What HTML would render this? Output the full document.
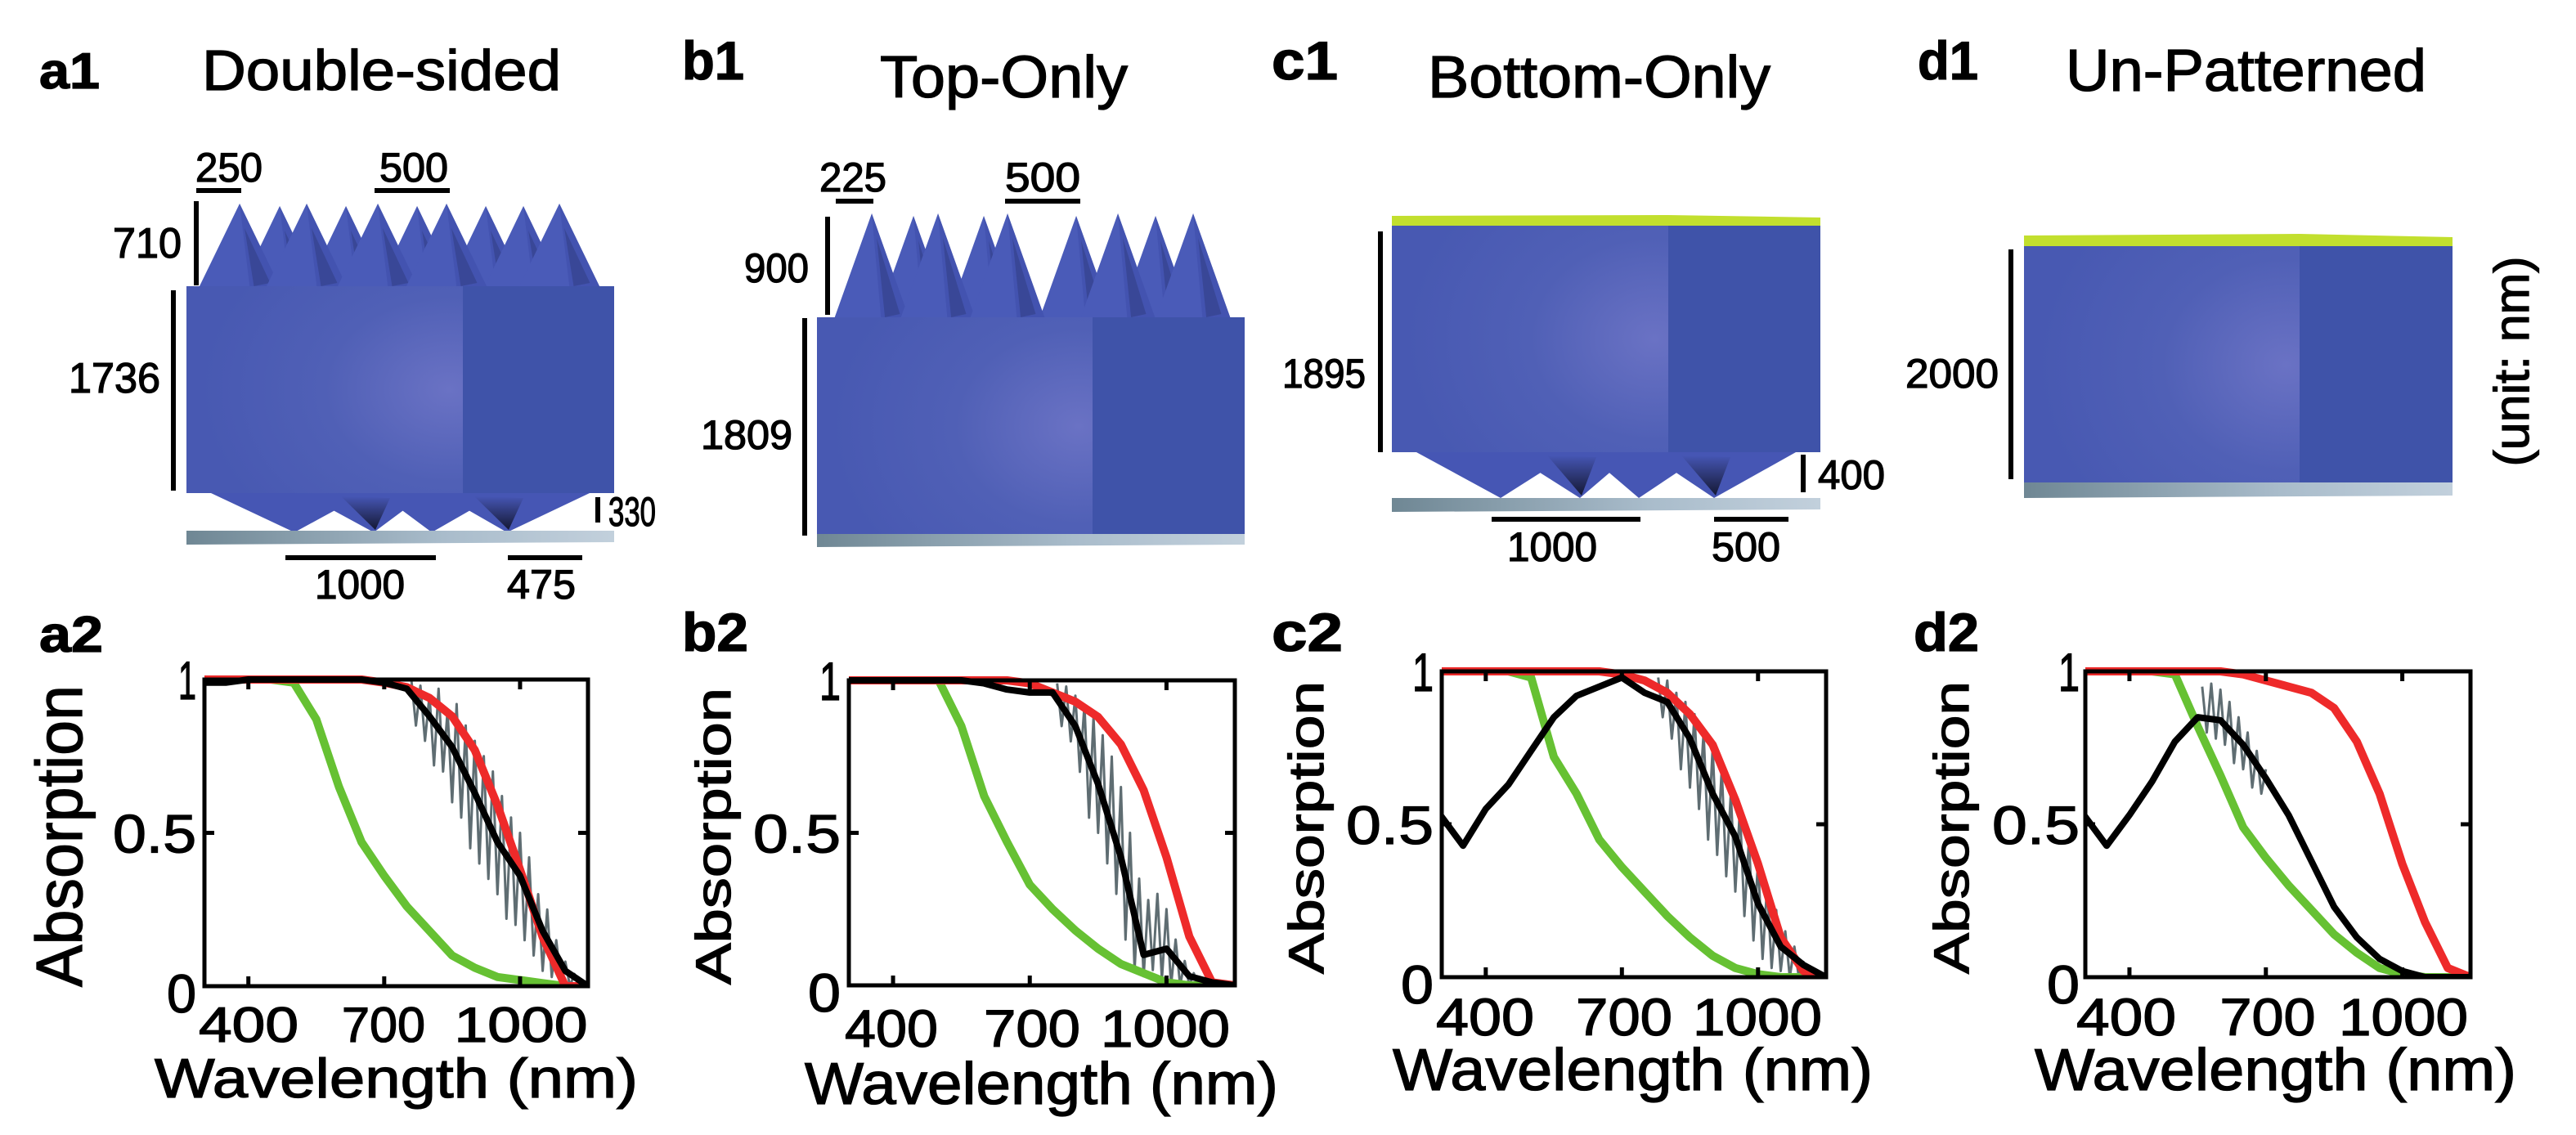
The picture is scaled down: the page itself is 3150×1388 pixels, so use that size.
<!DOCTYPE html>
<html><head><meta charset="utf-8"><style>
html,body{margin:0;padding:0;background:#fff;}
svg{display:block;font-family:"Liberation Sans",Arial,sans-serif;}
text{stroke:#000;stroke-width:1.3px;}
</style></head><body>
<svg id="fig" width="3150" height="1388" viewBox="0 0 3150 1388" xmlns="http://www.w3.org/2000/svg">
<defs>
<radialGradient id="frontGrad" cx="0.95" cy="0.5" r="0.9">
<stop offset="0" stop-color="#6a72c4"/><stop offset="0.5" stop-color="#5060b6"/><stop offset="1" stop-color="#4859b2"/></radialGradient>
<linearGradient id="subGrad" x1="0" x2="1" y1="0" y2="0"><stop offset="0" stop-color="#6f8794"/><stop offset="0.6" stop-color="#a9bccb"/><stop offset="1" stop-color="#c2d0dc"/></linearGradient>
<linearGradient id="shadeGrad" x1="0" x2="0" y1="0" y2="1"><stop offset="0" stop-color="#4656b4"/><stop offset="1" stop-color="#141833"/></linearGradient>
</defs>
</svg>
<script>
// ---------- chart data ----------
const wl = [300,350,400,450,500,550,600,650,700,750,800,850,900,950,1000,1050,1100,1150];
const xTicks = [400,700,1000];
const xTickLabels = ["400","700","1000"];
const yTicks = [0,0.5,1];
const yTickLabels = ["0","0.5","1"];

const aGreen = [1,1,1,1,0.99,0.87,0.65,0.47,0.36,0.26,0.18,0.10,0.06,0.03,0.02,0.01,0,0];
const aRed   = [1,1,1,1,1,1,1,1,0.99,0.975,0.94,0.88,0.77,0.59,0.38,0.16,0.0,0];
const aBlack = [0.99,0.99,1,1,1,1,1,1,0.99,0.97,0.88,0.78,0.63,0.47,0.36,0.18,0.05,0];
const bGreen = [1,1,1,1,1,0.85,0.62,0.47,0.33,0.25,0.18,0.12,0.07,0.04,0.01,0,0,0];
const bRed   = [1,1,1,1,1,1,1,1,0.99,0.96,0.93,0.88,0.79,0.64,0.42,0.16,0.01,0];
const bBlack = [1,1,1,1,1,1,0.99,0.97,0.96,0.96,0.85,0.66,0.42,0.10,0.12,0.03,0.01,0];
const cGreen = [1,1,1,1,0.98,0.72,0.60,0.45,0.36,0.28,0.20,0.13,0.07,0.03,0.01,0,0,0];
const cRed   = [1,1,1,1,1,1,1,1,0.99,0.97,0.93,0.86,0.76,0.58,0.37,0.13,0.02,0];
const cBlack = [0.53,0.43,0.55,0.63,0.74,0.85,0.92,0.95,0.98,0.93,0.90,0.78,0.60,0.46,0.24,0.10,0.04,0];
const dGreen = [1,1,1,1,0.99,0.82,0.66,0.49,0.39,0.30,0.22,0.14,0.08,0.03,0.01,0,0,0];
const dRed   = [1,1,1,1,1,1,1,0.99,0.97,0.95,0.93,0.88,0.77,0.60,0.37,0.18,0.03,0];
const dBlack = [0.53,0.43,0.53,0.64,0.77,0.85,0.84,0.76,0.65,0.53,0.38,0.23,0.13,0.06,0.02,0,0,0];

const aGrayWl = [760,770,780,790,800,810,820,830,840,850,860,870,880,890,900,910,920,930,940,950,960,970,980,990,1000,1010,1020,1030,1040,1050,1060,1070,1080,1090,1100,1110,1120,1130];
const aGray   = [1.0,0.85,0.98,0.80,0.95,0.72,0.97,0.70,0.90,0.60,0.92,0.55,0.85,0.45,0.80,0.40,0.75,0.35,0.70,0.30,0.62,0.22,0.55,0.20,0.50,0.15,0.42,0.10,0.30,0.05,0.25,0.03,0.15,0.02,0.08,0.0,0.04,0];
const bGrayWl = [760,770,780,790,800,810,820,830,840,850,860,870,880,890,900,910,920,930,940,950,960,970,980,990,1000,1010,1020,1030,1040,1050,1060,1070,1080,1090,1100];
const bGray   = [0.99,0.85,0.98,0.80,0.95,0.70,0.92,0.55,0.88,0.50,0.82,0.40,0.75,0.30,0.65,0.15,0.50,0.05,0.35,0.03,0.28,0.05,0.30,0.02,0.25,0.0,0.15,0.0,0.08,0.0,0.04,0,0.02,0,0.01];
const cGrayWl = [780,790,800,810,820,830,840,850,860,870,880,890,900,910,920,930,940,950,960,970,980,990,1000,1010,1020,1030,1040,1050,1060,1070,1080,1090,1100,1110,1120,1130];
const cGray   = [0.98,0.85,0.97,0.78,0.93,0.68,0.90,0.62,0.86,0.55,0.80,0.45,0.75,0.40,0.68,0.33,0.60,0.28,0.55,0.20,0.45,0.12,0.38,0.06,0.30,0.03,0.22,0.02,0.15,0,0.10,0,0.05,0,0.02,0];
const dGrayWl = [560,570,580,590,600,610,620,630,640,650,660,670,680,690,700];
const dGray   = [0.95,0.80,0.96,0.78,0.94,0.76,0.90,0.70,0.85,0.68,0.80,0.62,0.74,0.60,0.68];

// ---------- helpers ----------
const NS = "http://www.w3.org/2000/svg";
const svg = document.getElementById('fig');
function mk(tag, attrs, parent){
  const e = document.createElementNS(NS, tag);
  for (const k in attrs) e.setAttribute(k, attrs[k]);
  (parent||svg).appendChild(e);
  return e;
}
function txt(str, x, y, size, opts, parent){
  opts = opts||{};
  const a = {x:x, y:y, 'font-size':size, fill:'#000'};
  if (opts.anchor) a['text-anchor'] = opts.anchor;
  if (opts.bold) a['font-weight'] = 'bold';
  if (opts.len){ a.textLength = opts.len; a.lengthAdjust = 'spacingAndGlyphs'; }
  if (opts.rot) a.transform = opts.rot;
  const t = mk('text', a, parent);
  t.textContent = str;
  return t;
}

// ---------- panel labels & titles ----------
const labels = [
  ["a1",48,108,62,74],["a2",48,797,62,78],["b1",834,97,66,76],["b2",834,796,66,81],
  ["c1",1555,97,66,81],["c2",1555,796,66,87],["d1",2345,97,66,74],["d2",2340,796,66,80]];
labels.forEach(l=>{
  const t = txt(l[0], l[1], l[2], l[3], {bold:true, len:l[4]});
  
  
});
const titles = [["Double-sided",247,110,70,439],["Top-Only",1076,119,72,303],["Bottom-Only",1746,119,72,419],["Un-Patterned",2526,111,72,441]];
titles.forEach(tt=>{
  const t = txt(tt[0], tt[1], tt[2], tt[3], {len:tt[4]});
  
  
});

// ---------- 3D structures ----------
function block(g, x0, xm, x1, yt, yb){
  mk('rect',{x:x0,y:yt,width:xm-x0,height:yb-yt,fill:'url(#frontGrad)'},g);
  mk('rect',{x:xm,y:yt,width:x1-xm,height:yb-yt,fill:'#3f53a9'},g);
}
function substrate(g, x0, x1, yt, yb){
  mk('polygon',{points:`${x0},${yt} ${x1},${yt} ${x1},${yb-3} ${x0},${yb}`,fill:'url(#subGrad)'},g);
}
function cones(g, apexes, ya, yb, hw){
  apexes.forEach((x,i)=>{
    mk('polygon',{points:`${x},${ya} ${x-hw},${yb} ${x+hw},${yb}`,fill:'#4a5bb8'},g);
    mk('polygon',{points:`${x+6},${ya+30} ${x+hw*0.75},${yb-6} ${x+hw*0.35},${yb-2}`,fill:'#0d0d18'},g);
    mk('polygon',{points:`${x},${ya} ${x+hw*0.25},${yb} ${x+hw},${yb}`,fill:'#4252ae','fill-opacity':0.85},g);
  });
}
function botCones(g, x0, x1, tips, yt, yb){
  let pts = `${x0+30},${yt} `;
  tips.forEach((t,i)=>{
    pts += `${t},${yb} `;
    if (i<tips.length-1){ const m=(t+tips[i+1])/2; pts += `${m},${yt+(yb-yt)*0.45} `; }
  });
  pts += `${x1-30},${yt}`;
  mk('polygon',{points:pts,fill:'#4656b4'},g);
  tips.forEach((t,i)=>{ if(i%2===1||i===tips.length-1) mk('polygon',{points:`${t-40},${yt+4} ${t+20},${yt+6} ${t+2},${yb-3}`,fill:'url(#shadeGrad)'},g); });
}
function vbar(g,x,y1,y2){ mk('line',{x1:x,y1:y1,x2:x,y2:y2,stroke:'#000','stroke-width':6},g); }
function hbar(g,x1,x2,y){ mk('line',{x1:x1,y1:y,x2:x2,y2:y,stroke:'#000','stroke-width':6},g); }

// a1
let g = mk('g',{});  
cones(g,[342,423,510,594,640],252,352,48);
cones(g,[293,375,462,546,684],249,352,50);
block(g,228,566,751,350,603);
botCones(g,228,751,[360,457,528,620],603,651);
substrate(g,228,751,649,666);
vbar(g,240,246,349); vbar(g,212,355,600); vbar(g,731,608,639);
hbar(g,240,295,233); hbar(g,458,550,233); hbar(g,349,533,682); hbar(g,621,712,682);
txt("250",239,222,50,{len:82},g); txt("500",464,222,50,{len:84},g);
txt("710",138,315,52,{len:84},g); txt("1736",84,480,52,{len:112},g);
txt("330",744,643,50,{len:58},g); txt("1000",385,732,50,{len:110},g); txt("475",620,732,50,{len:84},g);

// b1
g = mk('g',{});  
cones(g,[1117,1203,1316,1413],264,390,45);
cones(g,[1066,1147,1232,1367,1459],261,390,46);
block(g,999,1336,1522,388,655);
substrate(g,999,1522,653,669);
vbar(g,1012,265,385); vbar(g,984,389,655);
hbar(g,1022,1068,246); hbar(g,1229,1321,246);
txt("225",1002,234,50,{len:82},g); txt("500",1229,234,50,{len:92},g);
txt("900",910,345,50,{len:79},g); txt("1809",857,549,50,{len:112},g);

// c1
g = mk('g',{});  
mk('polygon',{points:'1702,264 2040,263 2226,266 2226,277 1702,277',fill:'#c2df2e'},g);
block(g,1702,2040,2226,276,553);
botCones(g,1702,2226,[1835,1932,2004,2096],553,609);
substrate(g,1702,2226,609,626);
vbar(g,1688,283,553); vbar(g,2205,556,602);
hbar(g,1824,2006,635); hbar(g,2096,2187,635);
txt("1895",1568,474,50,{len:102},g); txt("400",2223,598,50,{len:82},g);
txt("1000",1843,686,50,{len:110},g); txt("500",2093,686,50,{len:84},g);

// d1
g = mk('g',{});  
mk('polygon',{points:'2475,288 2812,286 2999,290 2999,302 2475,302',fill:'#c2df2e'},g);
block(g,2475,2812,2999,301,591);
substrate(g,2475,2999,590,609);
vbar(g,2459,305,586);
txt("2000",2330,474,50,{len:114},g);
const unit = txt("(unit: nm)",3092,442,60,{anchor:'middle',len:257,rot:'rotate(-90 3092 442)'},g);



// ---------- plots ----------
const panels = [
 {id:'a', box:[250,719,831,1206], green:aGreen, red:aRed, black:aBlack, grayWl:aGrayWl, gray:aGray,
  absX:100, absLen:369, absFont:80, yRight:240, yLens:[36,102,22], xLab:[[304,122],[469,102],[637,163]], xLabY:1274, xFont:60,
  wave:[189,1342,591,68]},
 {id:'b', box:[1038,1510,832,1205], green:bGreen, red:bRed, black:bBlack, grayWl:bGrayWl, gray:bGray,
  absX:893, absLen:363, absFont:60, yRight:1028, yLens:[40,107,26], xLab:[[1090,114],[1262,118],[1425,158]], xLabY:1280, xFont:64,
  wave:[984,1350,579,72]},
 {id:'c', box:[1763,2233,821,1195], green:cGreen, red:cRed, black:cBlack, grayWl:cGrayWl, gray:cGray,
  absX:1618, absLen:358, absFont:60, yRight:1753, yLens:[40,107,26], xLab:[[1816,120],[1986,118],[2149,158]], xLabY:1266, xFont:64,
  wave:[1703,1333,587,72]},
 {id:'d', box:[2550,3021,821,1195], green:dGreen, red:dRed, black:dBlack, grayWl:dGrayWl, gray:dGray,
  absX:2407, absLen:358, absFont:60, yRight:2543, yLens:[40,107,26], xLab:[[2600,122],[2773,117],[2939,158]], xLabY:1266, xFont:64,
  wave:[2488,1333,589,72]}
];
const XMIN = 303, XMAX = 1150;
panels.forEach(p=>{
  const [L,R,T,B] = p.box;
  const xs = v => L + (v-XMIN)/(XMAX-XMIN)*(R-L);
  const ys = v => B - v*(B-T);
  const pg = mk('g',{});
  
  
  const clipId = 'clip'+p.id;
  const cp = mk('clipPath',{id:clipId},pg);
  mk('rect',{x:L,y:T-6,width:R-L,height:B-T+8},cp);
  const cg = mk('g',{'clip-path':`url(#${clipId})`},pg);
  function line(xv, yv, color, w, name){
    const pts = xv.map((x,i)=>xs(x).toFixed(1)+','+ys(yv[i]).toFixed(1)).join(' ');
    const pl = mk('polyline',{points:pts,fill:'none',stroke:color,'stroke-width':w,'stroke-linejoin':'round'},cg);
    
    
  }
  line(p.grayWl, p.gray, '#5f6d72', 3, 'series-gray-'+p.id);
  line(wl, p.green, '#66c133', 10, 'series-green-'+p.id);
  line(wl, p.red, '#ee2a2a', 10, 'series-red-'+p.id);
  line(wl, p.black, '#000', 8, 'series-black-'+p.id);
  const fr = mk('rect',{x:L,y:T,width:R-L,height:B-T,fill:'none',stroke:'#000','stroke-width':5},pg);
  
  
  xTicks.forEach((v,i)=>{
    mk('line',{x1:xs(v),y1:B,x2:xs(v),y2:B-12,stroke:'#000','stroke-width':5},pg);
    mk('line',{x1:xs(v),y1:T,x2:xs(v),y2:T+12,stroke:'#000','stroke-width':5},pg);
    const t = txt(xTickLabels[i], p.xLab[i][0], p.xLabY, p.xFont, {anchor:'middle', len:p.xLab[i][1]}, pg);
    
    
  });
  yTicks.forEach((v,i)=>{
    mk('line',{x1:L,y1:ys(v),x2:L+12,y2:ys(v),stroke:'#000','stroke-width':5},pg);
    mk('line',{x1:R,y1:ys(v),x2:R-12,y2:ys(v),stroke:'#000','stroke-width':5},pg);
    const t = txt(yTickLabels[i], p.yRight, ys(v)+24 + (v===0?8:0), 66, {anchor:'end', len:p.yLens[i]}, pg);
    
    
  });
  const cy = (T+B)/2 + 4;
  const ab = txt('Absorption', p.absX, cy, p.absFont, {anchor:'middle', len:p.absLen, rot:`rotate(-90 ${p.absX} ${cy})`}, pg);
  
  
  const wv = txt('Wavelength (nm)', p.wave[0], p.wave[1], p.wave[3], {len:p.wave[2]}, pg);
  
  
});
</script>
</body></html>
